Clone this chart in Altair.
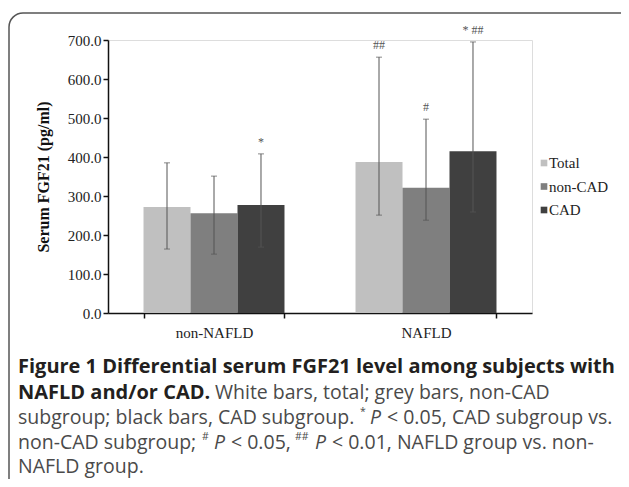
import altair as alt
import pandas as pd

groups = ["non-NAFLD", "NAFLD"]
subgroups = ["Total", "non-CAD", "CAD"]
group_col = ["non-NAFLD", "non-NAFLD", "non-NAFLD", "NAFLD", "NAFLD", "NAFLD"]
sub_col = ["Total", "non-CAD", "CAD", "Total", "non-CAD", "CAD"]
means = [272, 256, 277, 387, 321, 415]
lower = [164, 151, 169, 251, 238, 259]
upper = [385, 351, 408, 656, 497, 695]
sig_marks = ["", "", "*", "##", "#", "* ##"]
colors = ["#c0c0c0", "#7f7f7f", "#404040"]
y_ticks = [0, 100, 200, 300, 400, 500, 600, 700]

# caption: (text, page_x, line_index, style)
caption_segments = [
    ("Figure 1 Differential serum FGF21 level among subjects with", 18, 0, "bold"),
    ("NAFLD and/or CAD.", 18, 1, "bold"),
    ("White bars, total; grey bars, non-CAD", 215, 1, "normal"),
    ("subgroup; black bars, CAD subgroup.", 18, 2, "normal"),
    ("*", 360, 2, "sup"),
    ("P", 370, 2, "italic"),
    ("< 0.05, CAD subgroup vs.", 387, 2, "normal"),
    ("non-CAD subgroup;", 18, 3, "normal"),
    ("#", 202, 3, "sup"),
    ("P", 214, 3, "italic"),
    ("< 0.05,", 231, 3, "normal"),
    ("##", 295, 3, "sup"),
    ("P", 315, 3, "italic"),
    ("< 0.01, NAFLD group vs. non-", 332, 3, "normal"),
    ("NAFLD group.", 18, 4, "normal"),
]

W, H = 424, 273
PAD_L, PAD_T = 100, 32
TOTAL_W, TOTAL_H = 613, 471
PLOT_X0, PLOT_Y0 = 8 + PAD_L, 8 + PAD_T
LINE_Y = [367, 392.5, 418, 443, 467]
LEGEND_X, LEGEND_Y0, LEGEND_STEP = 544, 163, 23.5

df = pd.DataFrame({
    "group": group_col, "subgroup": sub_col, "mean": means,
    "lower": lower, "upper": upper, "sig": sig_marks,
})

x_axis = alt.Axis(labelAngle=0, tickBand="extent", labelPadding=7)
x_scale = alt.Scale(paddingInner=0.335, paddingOuter=0.1675)
y_axis = alt.Axis(values=y_ticks, format=".1f", labelOverlap=False, titlePadding=16)
y_scale = alt.Scale(domain=[0, 700], nice=False)
color_scale = alt.Scale(domain=subgroups, range=colors)


def xenc():
    return alt.X("group:N", sort=groups, title=None, scale=x_scale, axis=x_axis)


def yenc(field):
    return alt.Y(field, title="Serum FGF21 (pg/ml)", scale=y_scale, axis=y_axis)


xo_enc = alt.XOffset("subgroup:N", sort=subgroups,
                     scale=alt.Scale(paddingInner=0, paddingOuter=0))

base = alt.Chart(df)

bars = base.mark_bar(stroke=None).encode(
    x=xenc(), xOffset=xo_enc, y=yenc("mean:Q"),
    color=alt.Color("subgroup:N", sort=subgroups, scale=color_scale, legend=None),
)

err = base.mark_rule(color="#555", strokeWidth=1).encode(
    x=xenc(), xOffset=xo_enc, y=yenc("lower:Q"), y2="upper:Q")
cap_hi = base.mark_tick(color="#555", orient="horizontal", size=6, thickness=1).encode(
    x=xenc(), xOffset=xo_enc, y=yenc("upper:Q"))
cap_lo = base.mark_tick(color="#555", orient="horizontal", size=6, thickness=1).encode(
    x=xenc(), xOffset=xo_enc, y=yenc("lower:Q"))
sig = base.mark_text(font="Liberation Serif", fontSize=12, color="#555",
                     baseline="bottom", dy=-5).encode(
    x=xenc(), xOffset=xo_enc, y=yenc("upper:Q"), text="sig:N")

# manual legend
leg_df = pd.DataFrame({"subgroup": subgroups, "i": list(range(len(subgroups)))})
leg_base = alt.Chart(leg_df).transform_calculate(
    lx=f"{LEGEND_X - PLOT_X0}",
    ly=f"{LEGEND_Y0 - PLOT_Y0} + datum.i * {LEGEND_STEP}",
)
leg_sym = leg_base.mark_square(size=44, opacity=1).encode(
    x=alt.X("lx:Q", scale=None), y=alt.Y("ly:Q", scale=None),
    color=alt.Color("subgroup:N", sort=subgroups, scale=color_scale, legend=None))
leg_txt = leg_base.mark_text(align="left", baseline="middle", dx=5, dy=0,
                             font="Liberation Serif", fontSize=15, color="#222").encode(
    x=alt.X("lx:Q", scale=None), y=alt.Y("ly:Q", scale=None), text="subgroup:N")

border = alt.Chart(pd.DataFrame({"k": [0]})).mark_rect(
    fill="white", fillOpacity=0, stroke="#555", strokeWidth=1.5, cornerRadius=14
).encode(x=alt.value(9 - PLOT_X0), y=alt.value(13 - PLOT_Y0),
         x2=alt.value(800), y2=alt.value(700))

cap_rows = []
for text, px, li, style in caption_segments:
    cap_rows.append({"text": text, "x": px - PLOT_X0,
                     "y": LINE_Y[li] - PLOT_Y0 - (6 if style == "sup" else 0),
                     "style": style})
cap_df = pd.DataFrame(cap_rows)


def cap_layer(style, **kw):
    return alt.Chart(cap_df).transform_filter(alt.datum.style == style).mark_text(
        align="left", baseline="middle", font="Open Sans", **kw
    ).encode(x=alt.X("x:Q", scale=None), y=alt.Y("y:Q", scale=None), text="text:N")


caption = alt.layer(
    cap_layer("bold", fontSize=20, fontWeight="bold", color="#231f20"),
    cap_layer("normal", fontSize=19.5, color="#4a4a4a"),
    cap_layer("italic", fontSize=19.5, fontStyle="italic", color="#4a4a4a"),
    cap_layer("sup", fontSize=10.5, color="#4a4a4a"),
)

chart = alt.layer(border, bars, err, cap_hi, cap_lo, sig, leg_sym, leg_txt, caption).properties(
    width=W, height=H,
    autosize=alt.AutoSizeParams(type="none"),
    padding={"left": PAD_L, "top": PAD_T, "right": TOTAL_W - PAD_L - W,
             "bottom": TOTAL_H - PAD_T - H},
).configure_view(stroke=None).configure(background="white").configure_axis(
    labelFont="Liberation Serif", labelFontSize=15, labelColor="#222",
    titleFont="Liberation Serif", titleFontSize=16, titleFontWeight="bold",
    titleColor="#111", tickSize=5, tickColor="#111", tickWidth=1.5,
    domainColor="#111", domainWidth=1.5, grid=False, labelOverlap=False,
)

chart.save("out.html", embed_options={"renderer": "svg", "actions": False})
